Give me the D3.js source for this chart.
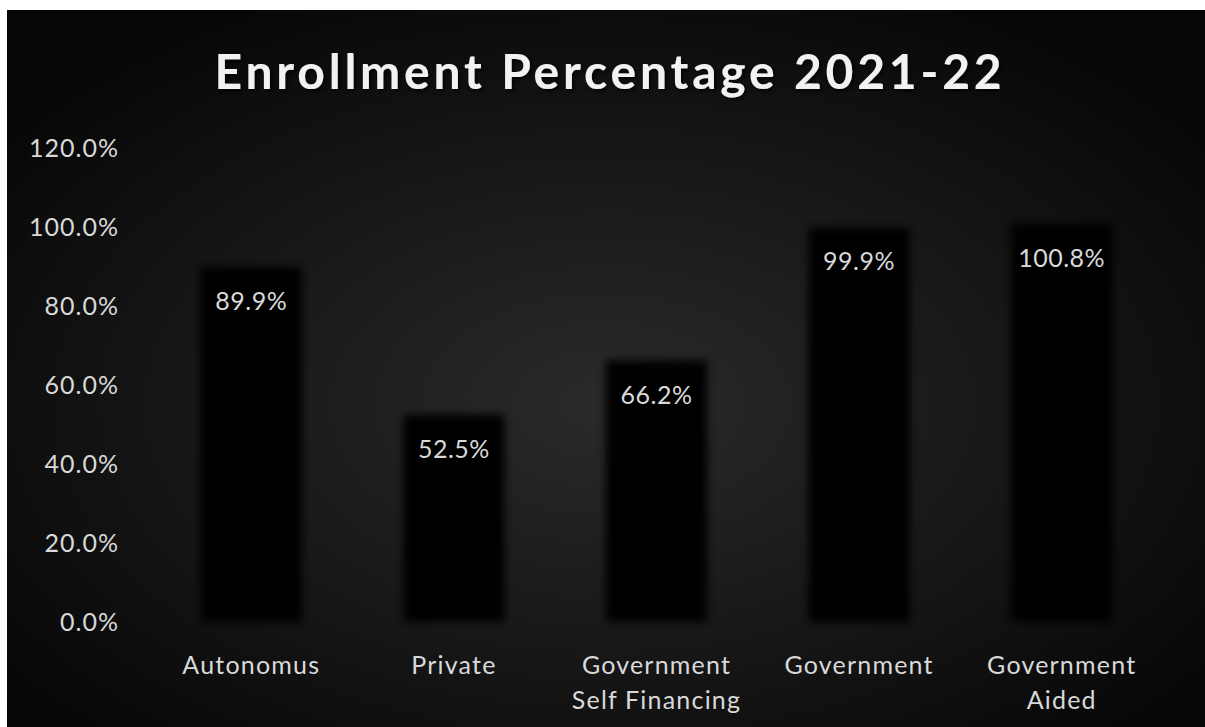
<!DOCTYPE html>
<html>
<head>
<meta charset="utf-8">
<script src="https://cdn.jsdelivr.net/npm/d3@7"></script>
<style>
    html, body { margin: 0; padding: 0; background: #fff; }
    svg { display: block; }
    text { font-family: Lato, "Open Sans", sans-serif; }
</style>
</head>
<body>
<div id="chart"></div>
<script>
// chart data
const categories = ["Autonomus", "Private", "Government Self Financing", "Government", "Government Aided"];
const categoryLines = [["Autonomus"], ["Private"], ["Government", "Self Financing"], ["Government"], ["Government", "Aided"]];
const enrollment = [89.9, 52.5, 66.2, 99.9, 100.8];
const yTicks = [0, 20, 40, 60, 80, 100, 120];
const title = "Enrollment Percentage 2021-22";

const W = 1205, H = 727;
const margin = { top: 148, right: 42, bottom: 105, left: 150 };
const width = W - margin.left - margin.right;
const height = H - margin.top - margin.bottom;

const svg = d3.select('#chart').append('svg')
    .attr('width', W)
    .attr('height', H);

const defs = svg.append('defs');
const grad = defs.append('radialGradient')
    .attr('id', 'bg')
    .attr('cx', '50%').attr('cy', '55%').attr('r', '65%');
grad.append('stop').attr('offset', '0%').attr('stop-color', '#2a2a2a');
grad.append('stop').attr('offset', '100%').attr('stop-color', '#060606');

defs.append('filter')
    .attr('id', 'soft')
    .attr('x', '-20%').attr('y', '-20%').attr('width', '140%').attr('height', '140%')
    .append('feGaussianBlur').attr('stdDeviation', 4);

const shadow = defs.append('filter').attr('id', 'tshadow');
shadow.append('feDropShadow')
    .attr('dx', 2).attr('dy', 2).attr('stdDeviation', 2)
    .attr('flood-color', '#000').attr('flood-opacity', 0.8);

// background panel (white frame on top and left)
svg.append('rect')
    .attr('x', 7).attr('y', 10)
    .attr('width', W - 7).attr('height', H - 10)
    .attr('fill', 'url(#bg)');

const plot = svg.append('g')
    .attr('transform', `translate(${margin.left},${margin.top})`);

// scales
const yScale = d3.scaleLinear()
    .domain([0, 120])
    .range([height, 0]);

const xScale = d3.scaleBand()
    .domain(categories)
    .range([0, width])
    .paddingInner(0.5)
    .paddingOuter(0.25);

// y axis labels only
const yAxis = plot.append('g')
    .call(d3.axisLeft(yScale).tickValues(yTicks).tickFormat(d => d.toFixed(1) + '%').tickSize(0).tickPadding(31));
yAxis.select('.domain').remove();
yAxis.selectAll('text')
    .attr('fill', '#d9d9d9')
    .style('font-size', '25px')
    .style('letter-spacing', '1px');

// bars
plot.selectAll('.bar')
    .data(enrollment)
    .enter()
    .append('rect')
    .attr('class', 'bar')
    .attr('x', (d, i) => xScale(categories[i]))
    .attr('y', d => yScale(d))
    .attr('width', xScale.bandwidth())
    .attr('height', d => height - yScale(d))
    .attr('fill', '#020202')
    .attr('filter', 'url(#soft)');

// value labels
plot.selectAll('.value')
    .data(enrollment)
    .enter()
    .append('text')
    .attr('class', 'value')
    .attr('x', (d, i) => xScale(categories[i]) + xScale.bandwidth() / 2)
    .attr('y', d => yScale(d) + 43)
    .attr('text-anchor', 'middle')
    .attr('fill', '#d9d9d9')
    .style('font-size', '25px')
    .style('letter-spacing', '0.5px')
    .text(d => d.toFixed(1) + '%');

// category labels
const xLabels = plot.append('g')
    .attr('transform', `translate(0, ${height})`);
categoryLines.forEach((lines, i) => {
    const t = xLabels.append('text')
        .attr('x', xScale(categories[i]) + xScale.bandwidth() / 2)
        .attr('y', 52)
        .attr('text-anchor', 'middle')
        .attr('fill', '#d9d9d9')
        .style('font-size', '25px')
        .style('letter-spacing', '1.2px');
    lines.forEach((l, j) => {
        t.append('tspan')
            .attr('x', xScale(categories[i]) + xScale.bandwidth() / 2)
            .attr('dy', j === 0 ? 0 : 35)
            .text(l);
    });
});

// title
svg.append('text')
    .attr('x', 610)
    .attr('y', 89)
    .attr('text-anchor', 'middle')
    .attr('fill', '#f2f2f2')
    .attr('filter', 'url(#tshadow)')
    .style('font-size', '48px')
    .style('font-weight', 'bold')
    .style('letter-spacing', '3.8px')
    .text(title);
</script>
</body>
</html>
